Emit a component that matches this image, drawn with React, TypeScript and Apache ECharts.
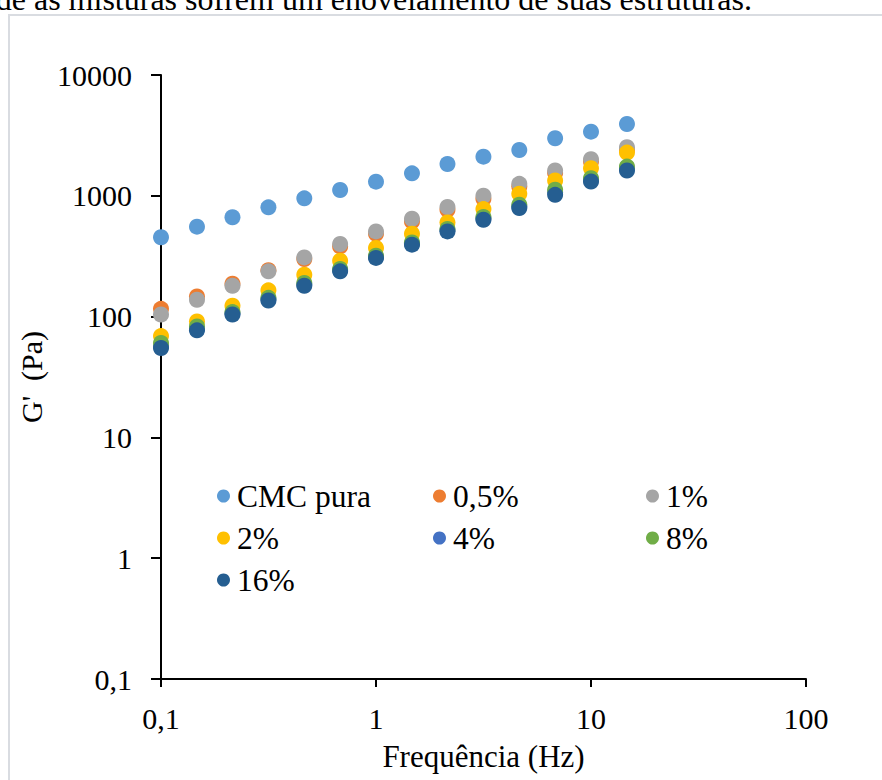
import React, { useEffect, useRef } from "react";
import * as echarts from "echarts";

const frequencies = [0.1, 0.147, 0.215, 0.316, 0.464, 0.681, 1, 1.47, 2.15, 3.16, 4.64, 6.81, 10, 14.7];

const seriesNames = ["CMC pura", "0,5%", "1%", "2%", "4%", "8%", "16%"];
const seriesColors = ["#5B9BD5", "#ED7D31", "#A5A5A5", "#FFC000", "#4472C4", "#70AD47", "#255E91"];

const cmcPura = [454, 555, 664, 803, 953, 1117, 1309, 1535, 1832, 2109, 2396, 2993, 3394, 3930];
const pct05 = [116, 147, 187, 242, 300, 381, 485, 614, 766, 944, 1194, 1541, 1919, 2399];
const pct1 = [104, 138, 180, 237, 309, 399, 507, 646, 807, 1000, 1256, 1619, 2009, 2524];
const pct2 = [69, 91, 123, 165, 222, 290, 370, 485, 601, 776, 1040, 1340, 1694, 2280];
const pct4 = [57, 79, 106, 139, 184, 242, 312, 402, 518, 650, 815, 1068, 1354, 1680];
const pct8 = [60.5, 83, 109, 143, 190, 248, 319, 411, 531, 667, 843, 1122, 1399, 1746];
const pct16 = [55, 77, 104, 136, 180, 237, 306, 394, 507, 634, 791, 1019, 1312, 1619];

const seriesValues = [cmcPura, pct05, pct1, pct2, pct4, pct8, pct16];

const legendColumns = [
  ["CMC pura", "2%", "16%"],
  ["0,5%", "4%"],
  ["1%", "8%"],
];

const xTitle = "Frequência (Hz)";
const yTitle = "G'  (Pa)";
const topText = "de as misturas sofrem um enovelamento de suas estruturas.";

const FONT = "'Liberation Serif', 'Times New Roman', serif";

function fmt(v: number): string {
  if (v >= 1) return String(Math.round(v));
  return String(Number(v.toPrecision(3))).replace(".", ",");
}

export default function App() {
  const ref = useRef<HTMLDivElement>(null);

  useEffect(() => {
    if (!ref.current) return;
    const chart = echarts.init(ref.current, undefined, { renderer: "svg" });

    const legendLefts = [217, 433, 646];
    const legends = legendColumns.map((names, i) => ({
      orient: "vertical",
      left: legendLefts[i],
      top: 480,
      data: names,
      icon: "circle",
      itemWidth: 13,
      itemHeight: 13,
      itemGap: 10,
      padding: 0,
      textStyle: {
        fontFamily: FONT,
        fontSize: 31.5,
        lineHeight: 31,
        color: "#000",
        padding: [0, 0, 0, 2],
      },
    }));

    chart.setOption({
      animation: false,
      backgroundColor: "#fff",
      graphic: [
        {
          type: "rect",
          shape: { x: 9, y: 15, width: 900, height: 800 },
          style: { fill: "none", stroke: "#D9DCE1", lineWidth: 2 },
          silent: true,
        },
        {
          type: "text",
          x: 752,
          y: 15,
          style: {
            text: topText,
            font: `32px ${FONT}`,
            fill: "#000",
            textAlign: "right",
            textVerticalAlign: "bottom",
          },
          silent: true,
        },
      ],
      grid: { left: 161, right: 76, top: 75, bottom: 101, containLabel: false },
      legend: legends,
      xAxis: {
        type: "log",
        logBase: 10,
        min: 0.1,
        max: 100,
        splitNumber: 3,
        name: xTitle,
        nameLocation: "middle",
        nameGap: 62,
        nameTextStyle: { fontFamily: FONT, fontSize: 31, color: "#000" },
        axisLine: { onZero: false, lineStyle: { color: "#000", width: 2 } },
        axisTick: { show: true, inside: false, length: 8, lineStyle: { color: "#000", width: 2 } },
        minorTick: { show: false },
        splitLine: { show: false },
        axisLabel: {
          margin: 24,
          fontFamily: FONT,
          fontSize: 30,
          color: "#000",
          formatter: (v: number) => fmt(v),
        },
      },
      yAxis: {
        type: "log",
        logBase: 10,
        min: 0.1,
        max: 10000,
        splitNumber: 5,
        name: yTitle,
        nameLocation: "middle",
        nameGap: 105,
        nameTextStyle: { fontFamily: FONT, fontSize: 30, color: "#000" },
        axisLine: { onZero: false, lineStyle: { color: "#000", width: 2 } },
        axisTick: { show: true, inside: false, length: 10, lineStyle: { color: "#000", width: 2 } },
        splitLine: { show: false },
        axisLabel: {
          margin: 29,
          fontFamily: FONT,
          fontSize: 30,
          color: "#000",
          formatter: (v: number) => fmt(v),
        },
      },
      series: seriesNames.map((name, i) => ({
        name,
        type: "scatter",
        symbol: "circle",
        symbolSize: 16,
        itemStyle: { color: seriesColors[i], opacity: 1 },
        data: frequencies.map((f, j) => [f, seriesValues[i][j]]),
        z: 2 + i,
      })),
    });

    return () => chart.dispose();
  }, []);

  return (
    <div
      ref={ref}
      style={{ position: "fixed", left: 0, top: 0, width: 882, height: 780 }}
    />
  );
}
